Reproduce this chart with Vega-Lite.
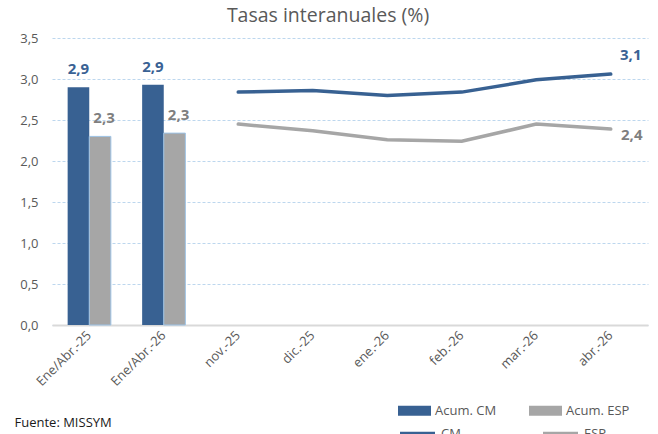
{
  "$schema": "https://vega.github.io/schema/vega-lite/v6.json",
  "width": 596,
  "height": 287,
  "autosize": {"type": "none"},
  "padding": {"left": 52, "top": 38, "right": 10, "bottom": 109},
  "background": "white",
  "title": {"text": "Tasas interanuales (%)", "fontSize": 19.5, "font": "Open Sans", "fontWeight": "normal", "color": "#595959", "anchor": "middle", "dx": -22, "offset": 6},
  "config": {
    "view": {"stroke": null},
    "font": "Open Sans",
    "locale": {"number": {"decimal": ",", "thousands": ".", "grouping": [3], "currency": ["", " €"]}}
  },
  "data": {"values": [
    {"cat": "Ene/Abr.-25", "series": "Acum. CM", "kind": "bar", "value": 2.90},
    {"cat": "Ene/Abr.-25", "series": "Acum. ESP", "kind": "bar", "value": 2.30},
    {"cat": "Ene/Abr.-26", "series": "Acum. CM", "kind": "bar", "value": 2.93},
    {"cat": "Ene/Abr.-26", "series": "Acum. ESP", "kind": "bar", "value": 2.34},
    {"cat": "nov.-25", "series": "CM", "kind": "line", "value": 2.84},
    {"cat": "dic.-25", "series": "CM", "kind": "line", "value": 2.86},
    {"cat": "ene.-26", "series": "CM", "kind": "line", "value": 2.80},
    {"cat": "feb.-26", "series": "CM", "kind": "line", "value": 2.84},
    {"cat": "mar.-26", "series": "CM", "kind": "line", "value": 2.99},
    {"cat": "abr.-26", "series": "CM", "kind": "line", "value": 3.06},
    {"cat": "nov.-25", "series": "ESP", "kind": "line", "value": 2.45},
    {"cat": "dic.-25", "series": "ESP", "kind": "line", "value": 2.37},
    {"cat": "ene.-26", "series": "ESP", "kind": "line", "value": 2.26},
    {"cat": "feb.-26", "series": "ESP", "kind": "line", "value": 2.24},
    {"cat": "mar.-26", "series": "ESP", "kind": "line", "value": 2.45},
    {"cat": "abr.-26", "series": "ESP", "kind": "line", "value": 2.39}
  ]},
  "encoding": {
    "x": {
      "field": "cat", "type": "nominal",
      "sort": ["Ene/Abr.-25", "Ene/Abr.-26", "nov.-25", "dic.-25", "ene.-26", "feb.-26", "mar.-26", "abr.-26"],
      "scale": {"paddingInner": 0.42, "paddingOuter": 0.21},
      "axis": {
        "title": "Fuente: MISSYM", "titleX": -38, "titleY": 97, "titleAlign": "left", "titleBaseline": "middle",
        "titleFontSize": 13, "titleFontWeight": "normal", "titleColor": "#1a1a1a", "titleAnchor": "start",
        "labelAngle": -45, "labelAlign": "right", "labelBaseline": "middle", "labelFontSize": 13, "labelColor": "#595959",
        "labelPadding": 8, "ticks": false, "domainColor": "#d9d9d9", "domainWidth": 2, "grid": false
      }
    },
    "y": {
      "field": "value", "type": "quantitative",
      "scale": {"domain": [0, 3.5], "nice": false},
      "axis": {
        "title": null, "values": [0, 0.5, 1, 1.5, 2, 2.5, 3, 3.5], "format": ".1f",
        "labelFontSize": 13, "labelColor": "#595959", "labelPadding": 14, "ticks": false, "domain": false,
        "grid": true, "gridColor": "#bdd7ee", "gridDash": [3, 2], "gridWidth": 1
      }
    }
  },
  "layer": [
    {
      "transform": [{"filter": "datum.kind === 'bar'"}],
      "mark": {"type": "bar", "stroke": "#9dc3e6", "strokeWidth": 1},
      "encoding": {
        "xOffset": {"field": "series", "type": "nominal", "scale": {"paddingInner": 0, "paddingOuter": 0}},
        "color": {
          "field": "series", "type": "nominal",
          "scale": {"domain": ["Acum. CM", "Acum. ESP"], "range": ["#386192", "#a6a6a6"]},
          "legend": {
            "title": null, "orient": "none", "legendX": 346, "legendY": 356, "direction": "horizontal",
            "symbolType": "M-1,-0.3H1V0.3H-1Z", "symbolSize": 1089, "symbolStrokeWidth": 0,
            "labelFontSize": 13, "labelColor": "#595959", "labelOffset": 4, "columnPadding": 32
          }
        },
        "strokeOpacity": {"condition": {"test": "datum.series === 'Acum. ESP'", "value": 1}, "value": 0}
      }
    },
    {
      "transform": [{"filter": "datum.series === 'Acum. CM'"}],
      "mark": {"type": "text", "color": "#3a6294", "fontWeight": "bold", "fontSize": 15, "dy": -10, "baseline": "bottom"},
      "encoding": {
        "xOffset": {"field": "series", "type": "nominal"},
        "text": {"field": "value", "type": "quantitative", "format": ".1f"}
      }
    },
    {
      "transform": [{"filter": "datum.series === 'Acum. ESP'"}],
      "mark": {"type": "text", "color": "#7f7f7f", "fontWeight": "bold", "fontSize": 15, "dy": -10, "dx": 4, "baseline": "bottom"},
      "encoding": {
        "xOffset": {"field": "series", "type": "nominal"},
        "text": {"field": "value", "type": "quantitative", "format": ".1f"}
      }
    },
    {
      "transform": [{"filter": "datum.kind === 'line'"}],
      "mark": {"type": "line", "strokeWidth": 3.5, "strokeCap": "round"},
      "encoding": {
        "stroke": {
          "field": "series", "type": "nominal",
          "scale": {"domain": ["CM", "ESP"], "range": ["#386192", "#a6a6a6"]},
          "legend": {
            "title": null, "orient": "none", "legendX": 346, "legendY": 376, "direction": "horizontal",
            "symbolType": "stroke", "symbolSize": 1225, "symbolStrokeWidth": 4,
            "labelFontSize": 13, "labelColor": "#595959", "labelOffset": 4, "columnPadding": 74
          }
        }
      }
    },
    {
      "transform": [{"filter": "datum.series === 'CM' && datum.cat === 'abr.-26'"}],
      "mark": {"type": "text", "color": "#3a6294", "fontWeight": "bold", "fontSize": 15, "dx": 20, "dy": -11, "baseline": "bottom"},
      "encoding": {"text": {"field": "value", "type": "quantitative", "format": ".1f"}}
    },
    {
      "transform": [{"filter": "datum.series === 'ESP' && datum.cat === 'abr.-26'"}],
      "mark": {"type": "text", "color": "#7f7f7f", "fontWeight": "bold", "fontSize": 15, "dx": 21, "dy": 6, "baseline": "middle"},
      "encoding": {"text": {"field": "value", "type": "quantitative", "format": ".1f"}}
    }
  ]
}
